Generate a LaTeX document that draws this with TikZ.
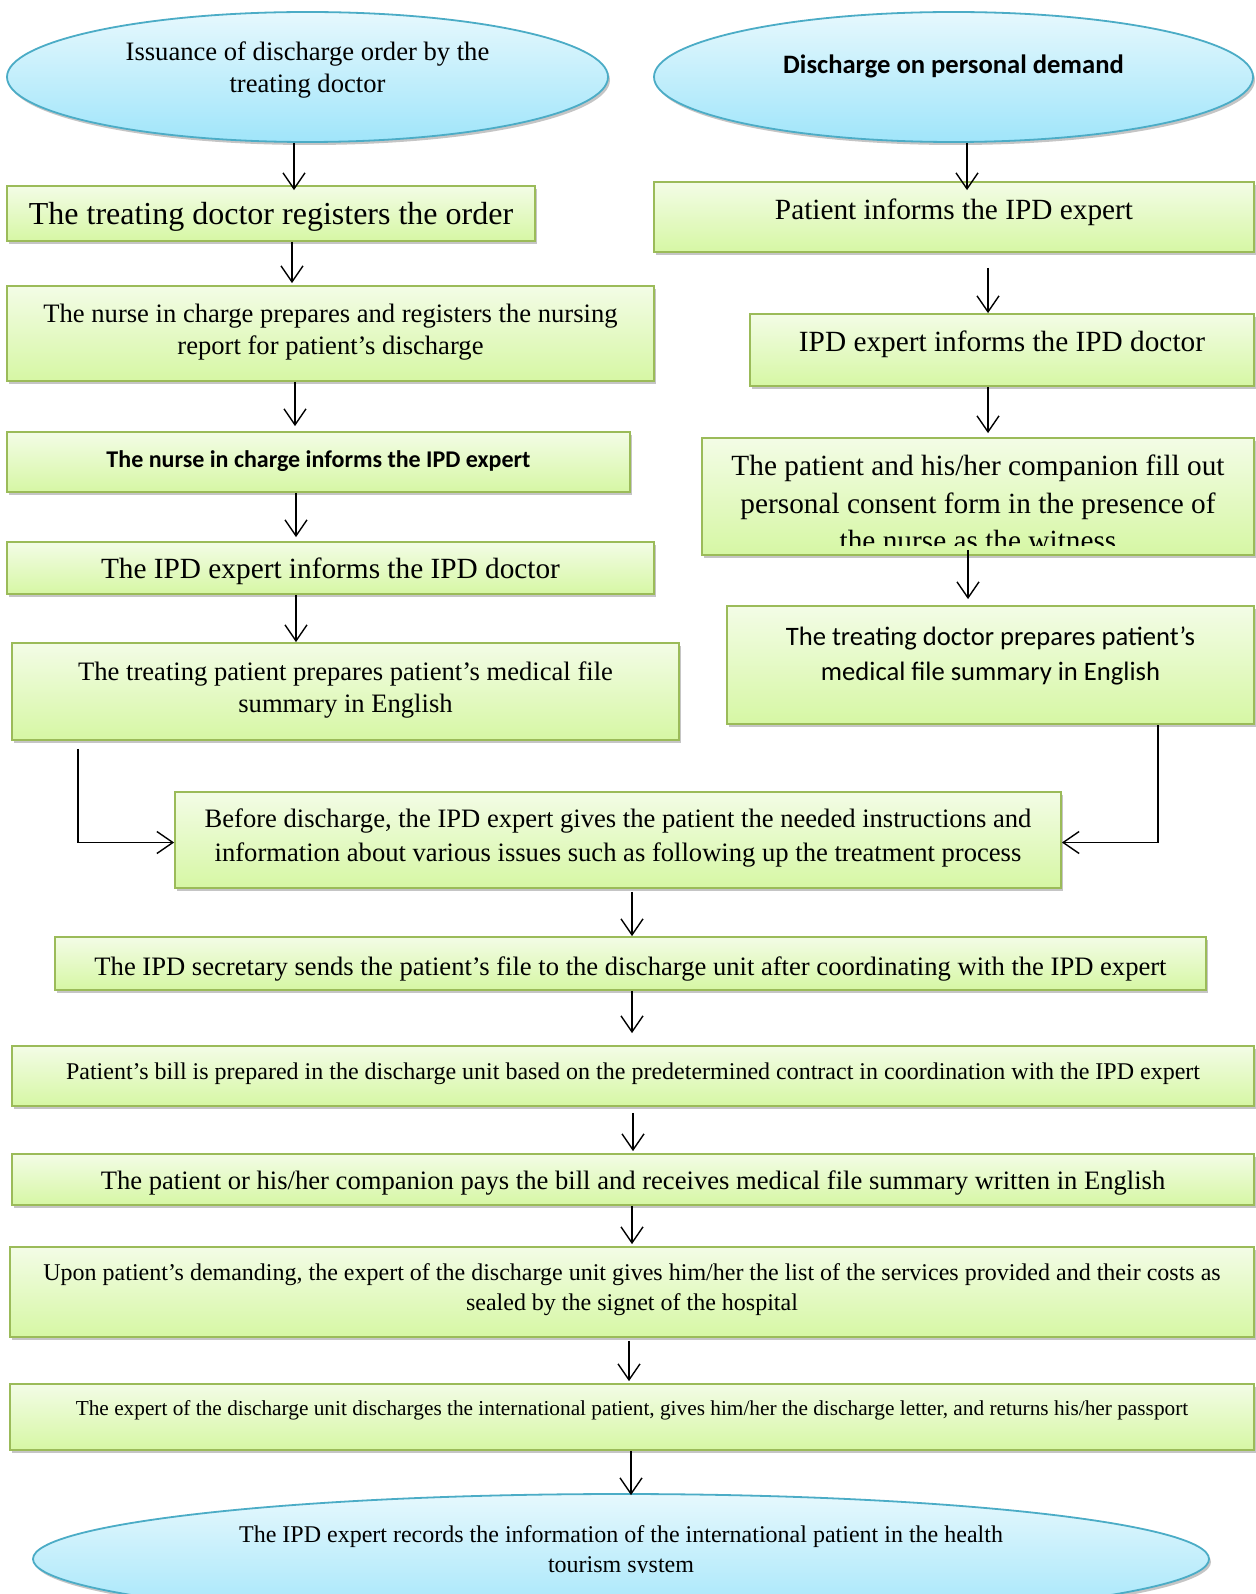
\documentclass[tikz,border=0pt]{standalone}
\usepackage{fontspec}
\setmainfont{Liberation Serif}
\newfontfamily\calibri{Carlito}
\usetikzlibrary{shapes.geometric,shadows,arrows.meta}

\definecolor{boxtop}{RGB}{243,252,230}
\definecolor{boxbot}{RGB}{214,247,164}
\definecolor{boxline}{RGB}{155,187,89}
\definecolor{elltop}{RGB}{230,248,253}
\definecolor{ellbot}{RGB}{160,229,250}
\definecolor{ellline}{RGB}{75,172,198}

\begin{document}
\begin{tikzpicture}[x=1pt, y=-1pt,
    box/.style={rectangle, draw=boxline, line width=1.8pt, top color=boxtop, bottom color=boxbot,
        drop shadow={shadow xshift=2pt, shadow yshift=-3pt, opacity=0.45}, inner sep=0pt},
    oval/.style={ellipse, draw=ellline, line width=1.8pt, top color=elltop, bottom color=ellbot,
        drop shadow={shadow xshift=2pt, shadow yshift=-3pt, opacity=0.45}, inner sep=0pt},
    txt/.style={align=center, inner sep=0pt, yshift=-3pt},
    arrow/.style={-{Straight Barb[length=16pt,width=22pt]}, line width=1.4pt}]

    \fill[white] (0,0) rectangle (1255,1594);
    \useasboundingbox (0,0) rectangle (1255,1594);

    % left branch
    \node[oval, minimum width=601, minimum height=130] (order) at (307.5,77) {};
    \node[box, minimum width=528, minimum height=55] (register) at (271,213.5) {};
    \node[box, minimum width=647, minimum height=95] (report) at (330.5,333.5) {};
    \node[box, minimum width=623, minimum height=60] (informs) at (318.5,462) {};
    \node[box, minimum width=647, minimum height=52] (tell) at (330.5,568) {};
    \node[box, minimum width=667, minimum height=97] (summary) at (345.5,691.5) {};

    % right branch
    \node[oval, minimum width=599, minimum height=130] (demand) at (953.5,77) {};
    \node[box, minimum width=600, minimum height=70] (patient) at (954,217) {};
    \node[box, minimum width=504, minimum height=72] (doctor) at (1002,350) {};
    \node[box, minimum width=552, minimum height=117] (consent) at (978,496.5) {};
    \node[box, minimum width=527, minimum height=118] (summary2) at (990.5,665) {};

    % common part
    \node[box, minimum width=886, minimum height=96] (instruct) at (618,840) {};
    \node[box, minimum width=1151, minimum height=53] (secretary) at (630.5,963.5) {};
    \node[box, minimum width=1242, minimum height=60] (bill) at (633,1076) {};
    \node[box, minimum width=1242, minimum height=51] (pay) at (633,1179.5) {};
    \node[box, minimum width=1244, minimum height=90] (costs) at (632,1292) {};
    \node[box, minimum width=1244, minimum height=66] (letter) at (632,1417) {};
    \node[oval, minimum width=1176, minimum height=130] (record) at (621,1559) {};

    % texts
    \node[txt, font=\fontsize{26.6}{32.5}\selectfont] at ([yshift=10pt]order.center) {Issuance of discharge order by the\\treating doctor};
    \node[txt, font=\fontsize{32}{38}\selectfont] at (register.center) {The treating doctor registers the order};
    \node[txt, font=\fontsize{26.6}{32.5}\selectfont] at ([yshift=4.5pt]report.center) {The nurse in charge prepares and registers the nursing\\report for patient’s discharge};
    \node[txt, font=\calibri\bfseries\fontsize{24}{29}\selectfont] at ([yshift=4pt]informs.center) {The nurse in charge informs the IPD expert};
    \node[txt, font=\fontsize{29.3}{35}\selectfont] at (tell.center) {The IPD expert informs the IPD doctor};
    \node[txt, font=\fontsize{26.6}{32.5}\selectfont] at ([yshift=4.5pt]summary.center) {The treating patient prepares patient’s medical file\\summary in English};

    \node[txt, font=\calibri\bfseries\fontsize{26.6}{32}\selectfont] at ([yshift=14pt]demand.center) {Discharge on personal demand};
    \node[txt, font=\fontsize{29.3}{35}\selectfont] at ([yshift=7.5pt]patient.center) {Patient informs the IPD expert};
    \node[txt, font=\fontsize{29.3}{35}\selectfont] at ([yshift=8.5pt]doctor.center) {IPD expert informs the IPD doctor};
    \begin{scope}
        \clip (consent.north west) rectangle ([yshift=10pt]consent.south east);
        \node[txt, font=\fontsize{29.3}{37.5}\selectfont] at ([yshift=-3.5pt]consent.center) {The patient and his/her companion fill out\\personal consent form in the presence of\\the nurse as the witness};
    \end{scope}
    \node[txt, font=\calibri\fontsize{26.6}{34.5}\selectfont] at ([yshift=12pt]summary2.center) {The treating doctor prepares patient’s\\medical file summary in English};

    \node[txt, font=\fontsize{26.6}{33.5}\selectfont] at ([yshift=5pt]instruct.center) {Before discharge, the IPD expert gives the patient the needed instructions and\\information about various issues such as following up the treatment process};
    \begin{scope}
        \clip (secretary.north west) rectangle ([yshift=9pt]secretary.south east);
        \node[txt, font=\fontsize{26.6}{32.5}\selectfont] at ([yshift=-2pt]secretary.center) {The IPD secretary sends the patient’s file to the discharge unit after coordinating with the IPD expert};
    \end{scope}
    \node[txt, font=\fontsize{24}{30}\selectfont] at ([yshift=5pt]bill.center) {Patient’s bill is prepared in the discharge unit based on the predetermined contract in coordination with the IPD expert};
    \node[txt, font=\fontsize{26.6}{32.5}\selectfont] at (pay.center) {The patient or his/her companion pays the bill and receives medical file summary written in English};
    \node[txt, font=\fontsize{24}{30.5}\selectfont] at ([yshift=5.5pt]costs.center) {Upon patient’s demanding, the expert of the discharge unit gives him/her the list of the services provided and their costs as\\sealed by the signet of the hospital};
    \node[txt, font=\fontsize{21.3}{26}\selectfont] at ([yshift=9.5pt]letter.center) {The expert of the discharge unit discharges the international patient, gives him/her the discharge letter, and returns his/her passport};
    \begin{scope}
        \clip (record.north west) rectangle ([yshift=-13pt]record.east);
        \node[txt, font=\fontsize{24}{30.5}\selectfont] at ([yshift=10.5pt]record.center) {The IPD expert records the information of the international patient in the health\\tourism system};
    \end{scope}

    % connectors
    \draw[arrow] ([xshift=-13.5pt]order.south) -- ([xshift=-13.5pt,yshift=-5pt]order.south |- register.north);
    \draw[arrow] ([xshift=21pt]register.south) -- ([xshift=21pt,yshift=2pt]register.south |- report.north);
    \draw[arrow] ([xshift=-35.5pt]report.south) -- ([xshift=-35.5pt,yshift=5pt]report.south |- informs.north);
    \draw[arrow] ([xshift=-22.5pt]informs.south) -- ([xshift=-22.5pt,yshift=4pt]informs.south |- tell.north);
    \draw[arrow] ([xshift=-34.5pt]tell.south) -- ([xshift=-34.5pt]tell.south |- summary.north);

    \draw[arrow] ([xshift=13.5pt]demand.south) -- ([xshift=13.5pt,yshift=-9pt]demand.south |- patient.north);
    \draw[arrow] ([xshift=34pt,yshift=-15pt]patient.south) -- ([xshift=34pt]patient.south |- doctor.north);
    \draw[arrow] ([xshift=-14pt]doctor.south) -- ([xshift=-14pt,yshift=4pt]doctor.south |- consent.north);
    \draw[arrow] ([xshift=-10pt,yshift=6pt]consent.south) -- ([xshift=-10pt,yshift=6pt]consent.south |- summary2.north);

    \draw[arrow] ([xshift=-267.5pt,yshift=-8pt]summary.south) |- ([yshift=-2.5pt]instruct.west);
    \draw[arrow] ([xshift=167.5pt]summary2.south) |- ([yshift=-2.5pt]instruct.east);

    \draw[arrow] ([xshift=14pt,yshift=-3pt]instruct.south) -- ([xshift=14pt]instruct.south |- secretary.north);
    \draw[arrow] ([xshift=1.5pt]secretary.south) -- ([xshift=1.5pt,yshift=12pt]secretary.south |- bill.north);
    \draw[arrow] ([yshift=-6pt]bill.south) -- ([yshift=2pt]bill.south |- pay.north);
    \draw[arrow] ([xshift=-1pt]pay.south) -- ([xshift=-1pt,yshift=2pt]pay.south |- costs.north);
    \draw[arrow] ([xshift=-3pt,yshift=-3pt]costs.south) -- ([xshift=-3pt,yshift=2pt]costs.south |- letter.north);
    \draw[arrow] ([xshift=-1pt]letter.south) -- ([xshift=-1pt,yshift=-2pt]letter.south |- record.north);
\end{tikzpicture}
\end{document}
